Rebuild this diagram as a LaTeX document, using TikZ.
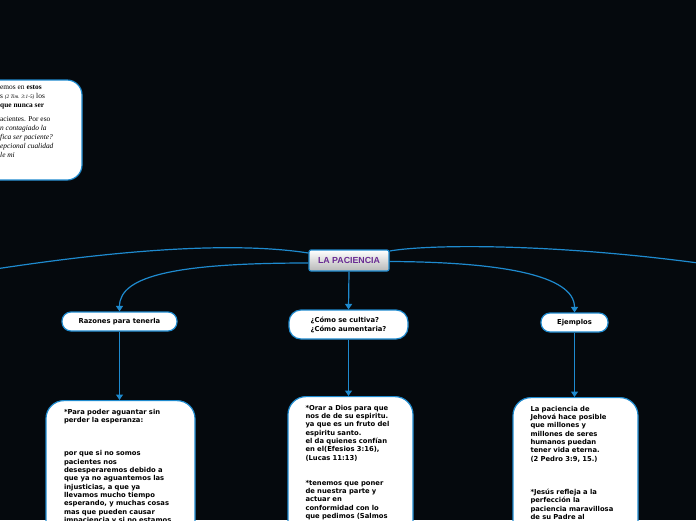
\documentclass[tikz,border=0pt]{standalone}
\usepackage{fontspec}
\setmainfont{Liberation Serif}
\newfontfamily\mapfont{DejaVu Sans}
\newfontfamily\titlefont{Liberation Sans}
\usetikzlibrary{arrows.meta}
\definecolor{mapbg}{RGB}{5,9,13}
\definecolor{mapblue}{RGB}{30,138,206}
\definecolor{mappurple}{RGB}{104,42,146}

\begin{document}
\begin{tikzpicture}[x=1pt,y=-1pt,
  link/.style={draw=mapblue,line width=1.2pt},
  tip/.style={-{Triangle[length=5.5pt,width=7pt]}},
  topic/.style={draw=mapblue,line width=1.2pt,rounded corners=2pt,top color=white,bottom color=black!28,
    text=mappurple,font=\titlefont\bfseries\fontsize{8.8}{10}\selectfont,minimum width=80pt,minimum height=21pt,inner sep=0pt},
  subtopic/.style={draw=mapblue,fill=white,line width=1.2pt,rounded corners=9pt,
    font=\mapfont\bfseries\fontsize{6.8}{9}\selectfont,minimum height=19pt,inner sep=0pt},
  detail/.style={draw=mapblue,fill=white,line width=1.2pt,rounded corners=18pt,anchor=north,align=left,
    font=\mapfont\bfseries\fontsize{6.8}{8.33}\selectfont,text width=90pt,inner xsep=17.5pt,inner ysep=8.5pt,
    text height=5pt,text depth=150pt}]
\useasboundingbox (0,0) rectangle (696,520);
\fill[mapbg] (0,0) rectangle (696,520);
\clip (0,0) rectangle (696,520);

% note box, cut off at the left edge
\draw[link,fill=white,rounded corners=15pt] (-60,80) rectangle (82,180);
\node[anchor=north west,inner sep=0pt,align=left,font=\fontsize{7.4}{8.9}\selectfont] (note) at (0,85.5)
  {emos en \textbf{estos}\\
   s \textit{\fontsize{5.2}{6}\selectfont (2 Tim. 3:1-5)} los\\
   \textbf{que nunca ser}\\[5pt]
   acientes. Por eso\\
   \textit{n contagiado la}\\
   \textit{fica ser paciente?}\\
   \textit{epcional cualidad}\\
   \textit{le mi}};

\node[topic] (main) at (349,260.5) {LA PACIENCIA};
\node[subtopic,minimum width=115pt] (razones) at (119.5,321.5) {Razones para tenerla};
\node[subtopic,minimum width=119pt,minimum height=29pt,rounded corners=12pt,align=left] (cultivo) at (348.5,324.5)
  {¿Cómo se cultiva?\\¿Cómo aumentaria?};
\node[subtopic,minimum width=67pt] (ejemplos) at (574.5,322.5) {Ejemplos};

\node[detail,text width=113pt,inner xsep=18pt] (aguantar) at (120.5,400)
  {*Para poder aguantar sin\\
   perder la esperanza:\\[25pt]
   por que si no somos\\
   pacientes nos\\
   desesperaremos debido a\\
   que ya no aguantemos las\\
   injusticias, a que ya\\
   llevamos mucho tiempo\\
   esperando, y muchas cosas\\
   mas que pueden causar\\
   impaciencia y si no estamos};
\node[detail] (orar) at (350.5,396)
  {*Orar a Dios para que\\
   nos de de su espiritu.\\
   ya que es un fruto del\\
   espiritu santo.\\
   el da quienes confían\\
   en el(Efesios 3:16),\\
   (Lucas 11:13)\\[16.7pt]
   *tenemos que poner\\
   de nuestra parte y\\
   actuar en\\
   conformidad con lo\\
   que pedimos (Salmos};
\node[detail] (jehova) at (575.5,397)
  {La paciencia de\\
   Jehová hace posible\\
   que millones y\\
   millones de seres\\
   humanos puedan\\
   tener vida eterna.\\
   (2 Pedro 3:9, 15.)\\[25pt]
   *Jesús refleja a la\\
   perfección la\\
   paciencia maravillosa\\
   de su Padre al};

% links leaving the picture
\coordinate (offL) at (-30,273);
\coordinate (offR) at (720,266);
\draw[link] ([yshift=7.5pt]main.west) .. controls (250,244) and (150,244) .. (offL);
\draw[link] ([yshift=9.5pt]main.east) .. controls (430,244) and (560,243) .. (offR);

\draw[link,tip] ([yshift=-2.5pt]main.west) .. controls (180,263) and (119.5,275) .. (razones.north);
\draw[link,tip] ([yshift=-1pt]main.east) .. controls (500,262) and (574.5,275) .. (ejemplos.north);
\draw[link,tip] (main.south) -- (cultivo.north);
\draw[link,tip] (razones.south) -- (razones.south |- aguantar.north);
\draw[link,tip] (cultivo.south) -- (cultivo.south |- orar.north);
\draw[link,tip] (ejemplos.south) -- (ejemplos.south |- jehova.north);
\end{tikzpicture}
\end{document}
